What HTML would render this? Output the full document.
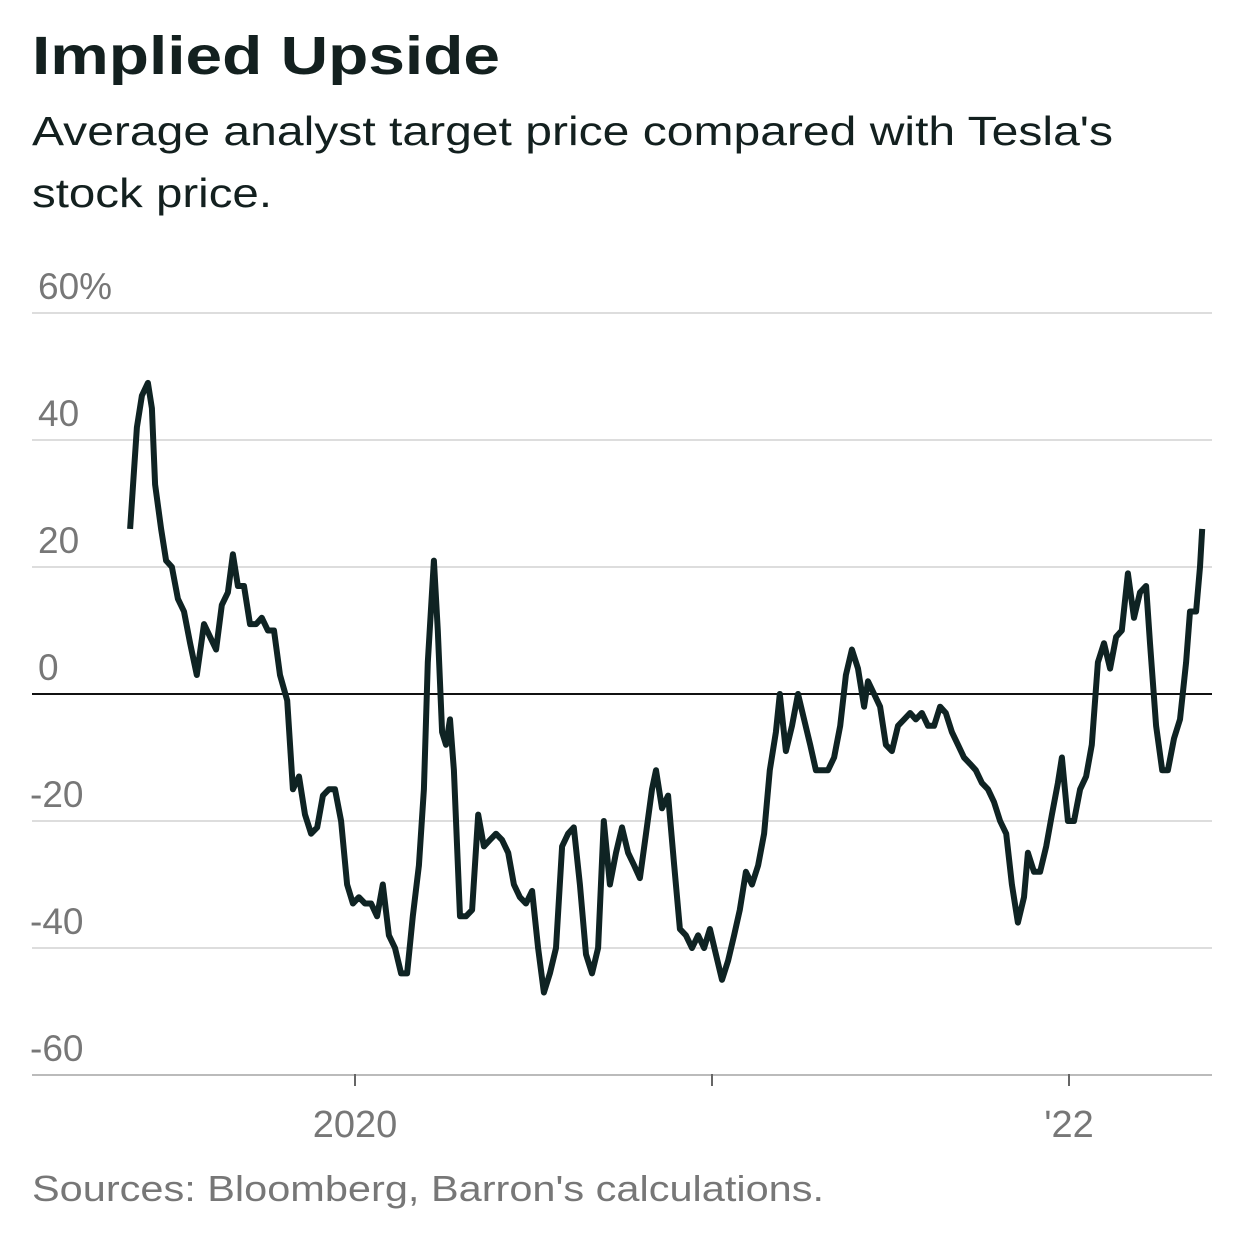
<!DOCTYPE html>
<html><head><meta charset="utf-8"><style>
body{margin:0;background:#fff;width:1241px;height:1239px;overflow:hidden;font-family:"Liberation Sans",sans-serif}
svg{position:absolute;left:0;top:0}
</style></head><body>
<svg id="chart" width="1241" height="1239">
<text x="32" y="74" font-size="54" font-weight="bold" fill="#13201f" textLength="468" lengthAdjust="spacingAndGlyphs">Implied Upside</text>
<text x="32" y="145" font-size="41" fill="#13201f" textLength="1081" lengthAdjust="spacingAndGlyphs">Average analyst target price compared with Tesla's</text>
<text x="32" y="207" font-size="41" fill="#13201f" textLength="240" lengthAdjust="spacingAndGlyphs">stock price.</text>
<g id="grid"></g><g id="xaxis"></g><g id="plot"></g>
<text x="32" y="1201" font-size="36" fill="#777" textLength="792" lengthAdjust="spacingAndGlyphs">Sources: Bloomberg, Barron's calculations.</text>
</svg>
<script>
const dates=[2019.370,2019.389,2019.403,2019.420,2019.431,2019.440,2019.457,2019.471,2019.487,2019.504,2019.521,2019.538,2019.557,2019.577,2019.594,2019.611,2019.627,2019.644,2019.658,2019.672,2019.689,2019.706,2019.723,2019.739,2019.756,2019.773,2019.790,2019.810,2019.826,2019.843,2019.860,2019.877,2019.894,2019.910,2019.927,2019.944,2019.961,2019.978,2019.994,2020.011,2020.028,2020.045,2020.062,2020.078,2020.095,2020.112,2020.129,2020.146,2020.162,2020.179,2020.193,2020.204,2020.221,2020.232,2020.244,2020.255,2020.266,2020.277,2020.294,2020.311,2020.328,2020.345,2020.361,2020.378,2020.395,2020.412,2020.429,2020.445,2020.462,2020.479,2020.496,2020.513,2020.529,2020.546,2020.563,2020.580,2020.597,2020.613,2020.630,2020.647,2020.664,2020.681,2020.697,2020.714,2020.731,2020.748,2020.765,2020.782,2020.798,2020.815,2020.832,2020.843,2020.860,2020.877,2020.894,2020.910,2020.927,2020.944,2020.961,2020.978,2020.994,2021.011,2021.028,2021.045,2021.062,2021.078,2021.095,2021.112,2021.129,2021.146,2021.162,2021.179,2021.190,2021.207,2021.224,2021.241,2021.258,2021.275,2021.291,2021.308,2021.325,2021.342,2021.359,2021.375,2021.392,2021.409,2021.426,2021.437,2021.454,2021.471,2021.487,2021.504,2021.521,2021.538,2021.555,2021.571,2021.588,2021.605,2021.622,2021.639,2021.655,2021.672,2021.689,2021.706,2021.723,2021.739,2021.756,2021.773,2021.790,2021.807,2021.824,2021.840,2021.857,2021.874,2021.885,2021.902,2021.919,2021.936,2021.952,2021.969,2021.980,2021.997,2022.014,2022.031,2022.048,2022.064,2022.081,2022.098,2022.115,2022.132,2022.148,2022.165,2022.182,2022.199,2022.216,2022.227,2022.244,2022.261,2022.277,2022.294,2022.311,2022.328,2022.339,2022.356,2022.367,2022.373];
const upside=[26,42,47,49,45,33,26,21,20,15,13,8,3,11,9,7,14,16,22,17,17,11,11,12,10,10,3,-1,-15,-13,-19,-22,-21,-16,-15,-15,-20,-30,-33,-32,-33,-33,-35,-30,-38,-40,-44,-44,-35,-27,-15,5,21,10,-6,-8,-4,-12,-35,-35,-34,-19,-24,-23,-22,-23,-25,-30,-32,-33,-31,-40,-47,-44,-40,-24,-22,-21,-30,-41,-44,-40,-20,-30,-25,-21,-25,-27,-29,-22,-15,-12,-18,-16,-27,-37,-38,-40,-38,-40,-37,-41,-45,-42,-38,-34,-28,-30,-27,-22,-12,-6,0,-9,-5,0,-4,-8,-12,-12,-12,-10,-5,3,7,4,-2,2,0,-2,-8,-9,-5,-4,-3,-4,-3,-5,-5,-2,-3,-6,-8,-10,-11,-12,-14,-15,-17,-20,-22,-30,-36,-32,-25,-28,-28,-24,-19,-14,-10,-20,-20,-15,-13,-8,5,8,4,9,10,19,12,16,17,8,-5,-12,-12,-7,-4,5,13,13,20,26];
const yTicks=[60,40,20,0,-20,-40,-60];
const yTickLabels=["60%","40","20","0","-20","-40","-60"];
const xTicks=[2020,2021,2022];
const xTickLabels=["2020","","'22"];
const NS="http://www.w3.org/2000/svg";
const y=v=>694-(v*6.35);
const x=d=>355+(d-2020)*357;
function mk(tag,attrs,parent){const e=document.createElementNS(NS,tag);for(const k in attrs)e.setAttribute(k,attrs[k]);parent.appendChild(e);return e;}
const grid=document.getElementById('grid'),xa=document.getElementById('xaxis'),plot=document.getElementById('plot');
yTicks.forEach((t,i)=>{
  const col=t===0?'#111':(t===-60?'#bbb':'#ddd');
  const l=mk('line',{x1:32,x2:1212,y1:y(t),y2:y(t),stroke:col,'stroke-width':2},grid);
  
  
  const tx=mk('text',{x:t<0?30:38,y:y(t)-14,'font-size':37,fill:'#777'},grid);
  tx.textContent=yTickLabels[i];
  
  
});
xTicks.forEach((t,i)=>{
  const l=mk('line',{x1:x(t),x2:x(t),y1:1074,y2:1086,stroke:'#666','stroke-width':2},xa);
  
  
  if(xTickLabels[i]){
    const tx=mk('text',{x:x(t),y:1137,'font-size':38,fill:'#777','text-anchor':'middle'},xa);
    tx.textContent=xTickLabels[i];
    
    
  }
});
const d=dates.map((dt,i)=>(i?'L':'M')+x(dt).toFixed(1)+','+y(upside[i]).toFixed(1)).join('');
const p=mk('path',{d:d,fill:'none',stroke:'#0f2323','stroke-width':6,'stroke-linejoin':'round'},plot);


</script>
</body></html>
